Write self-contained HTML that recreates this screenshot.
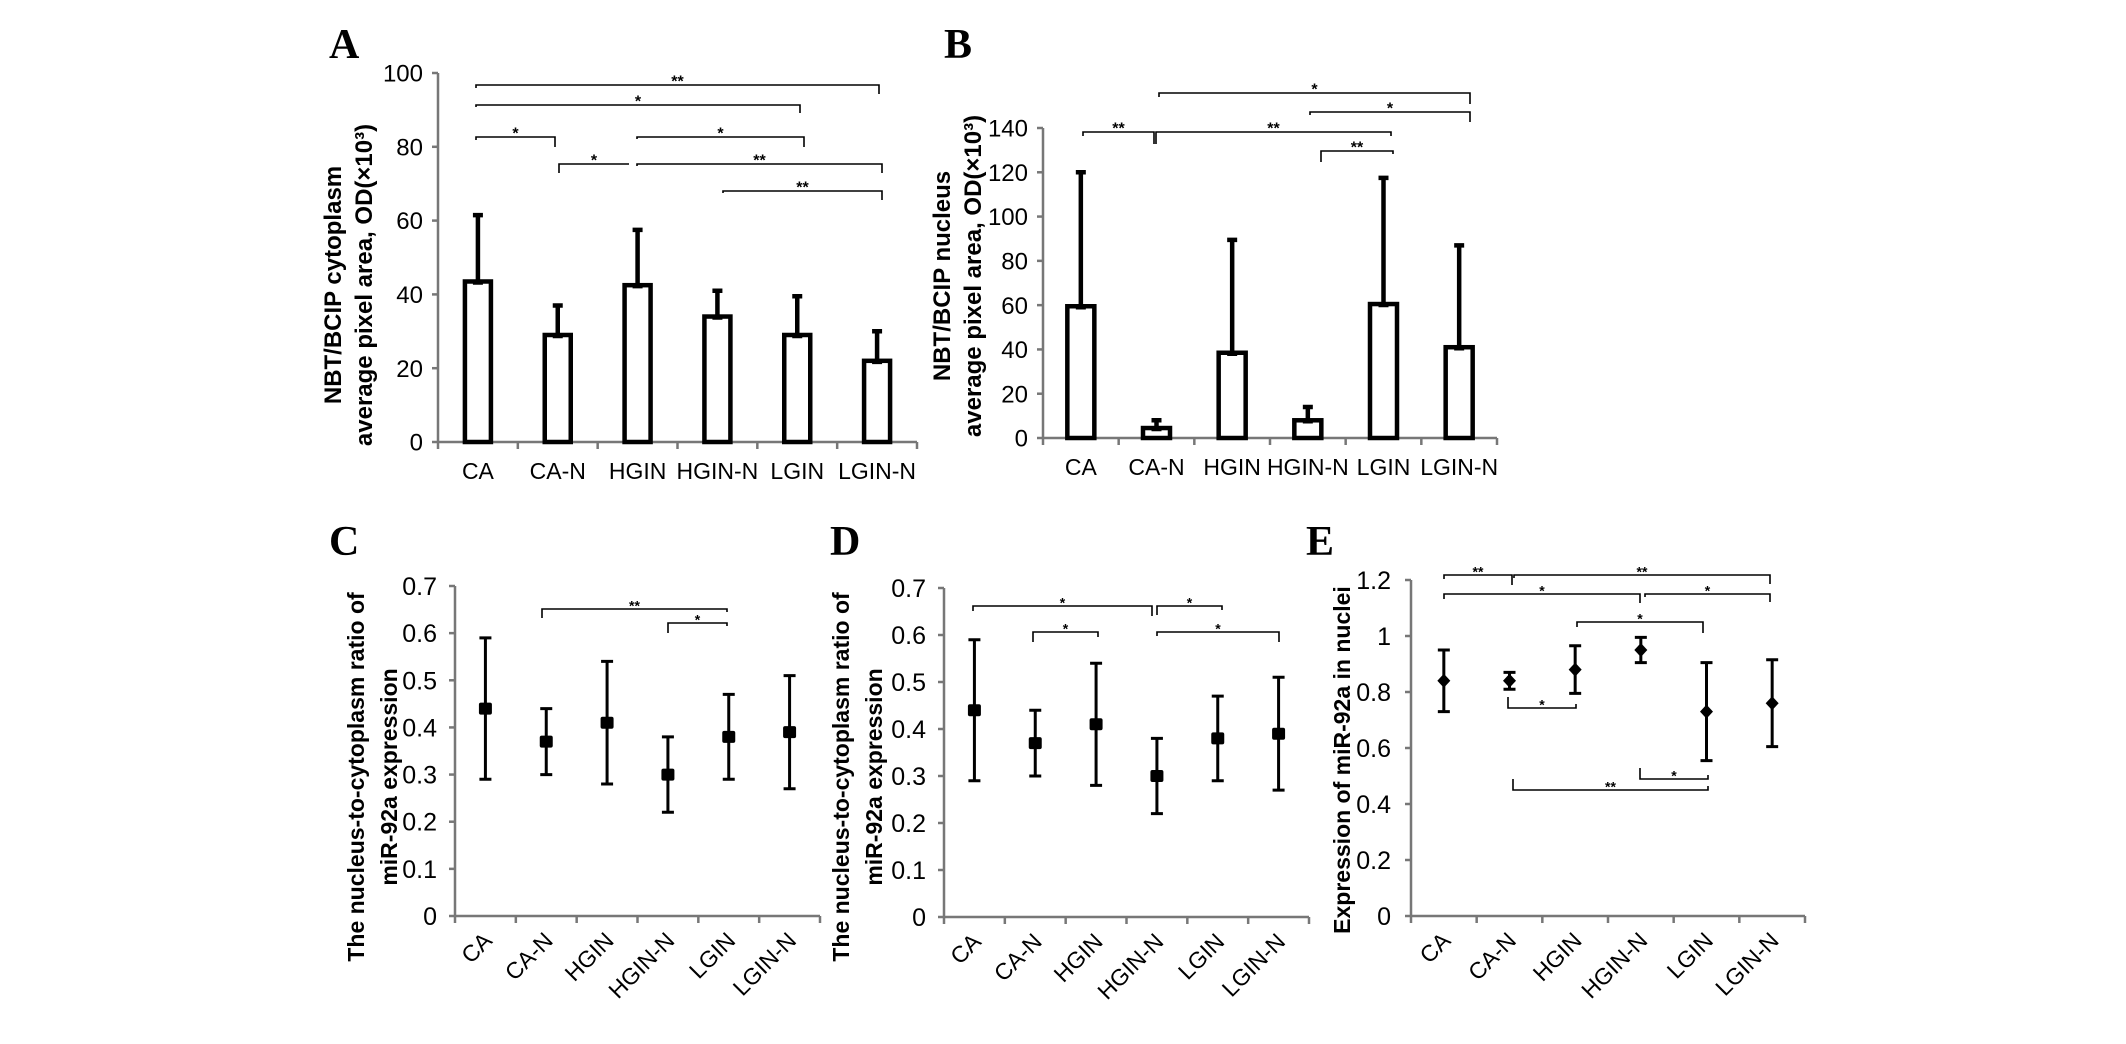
<!DOCTYPE html>
<html><head><meta charset="utf-8"><style>
html,body{margin:0;padding:0;background:#fff;}
svg{display:block;}
text{font-family:"Liberation Sans",sans-serif;fill:#000;}
.lt{font-family:"Liberation Serif",serif;font-weight:bold;font-size:42px;}
</style></head><body>
<svg id="fig" width="2126" height="1044" viewBox="0 0 2126 1044"></svg>
<script>
const categories = ["CA","CA-N","HGIN","HGIN-N","LGIN","LGIN-N"];
const aMeans = [43.5,29,42.5,34,29,22];
const aUpper = [61.5,37,57.5,41,39.5,30];
const aTicks = [0,20,40,60,80,100];
const bMeans = [59.5,4.5,38.5,8,60.5,41];
const bUpper = [120,8,89.5,14,117.5,87];
const bTicks = [0,20,40,60,80,100,120,140];
const cMeans = [0.44,0.37,0.41,0.30,0.38,0.39];
const cLow = [0.29,0.30,0.28,0.22,0.29,0.27];
const cHigh = [0.59,0.44,0.54,0.38,0.47,0.51];
const cdTicks = [0,0.1,0.2,0.3,0.4,0.5,0.6,0.7];
const eMeans = [0.84,0.84,0.88,0.95,0.73,0.76];
const eLow = [0.73,0.81,0.795,0.905,0.555,0.605];
const eHigh = [0.95,0.87,0.965,0.995,0.905,0.915];
const eTicks = [0,0.2,0.4,0.6,0.8,1,1.2];
const eTickLabels = ["0","0.2","0.4","0.6","0.8","1","1.2"];

const NS="http://www.w3.org/2000/svg";
const svg=document.getElementById('fig');
function mk(tag,attrs,parent,txt){const e=document.createElementNS(NS,tag);for(const k in attrs)e.setAttribute(k,attrs[k]);if(txt!==undefined)e.textContent=txt;(parent||svg).appendChild(e);return e;}

function panel(o){
  const g=mk('g',{});
  
  
  const n=categories.length, cw=(o.x1-o.x0)/n;
  const ys=v=>o.yb-(v-o.min)/(o.max-o.min)*(o.yb-o.yt);
  const xs=i=>o.x0+cw*(i+0.5);
  const lt=mk('text',{x:o.lx,y:o.ly,class:'lt'},g,o.letter);
  
  
  const ya=mk('line',{x1:o.x0,y1:o.yt,x2:o.x0,y2:o.yb,stroke:'#777','stroke-width':2.5},g);
  
  
  o.ticks.forEach((t,k)=>{
    mk('line',{x1:o.x0-6,y1:ys(t),x2:o.x0,y2:ys(t),stroke:'#777','stroke-width':2.5},g);
    const tl=mk('text',{x:o.x0-o.tgap,y:ys(t)+o.tfs*0.36,'text-anchor':'end','font-size':o.tfs},g,o.tlabels?o.tlabels[k]:String(t));
    
    
  });
  const xa=mk('line',{x1:o.x0,y1:o.yb,x2:o.x1,y2:o.yb,stroke:'#777','stroke-width':2.5},g);
  
  
  for(let i=0;i<=n;i++) mk('line',{x1:o.x0+cw*i,y1:o.yb,x2:o.x0+cw*i,y2:o.yb+7,stroke:'#777','stroke-width':2.5},g);
  categories.forEach((c,i)=>{
    let t;
    if(o.rot){ const px=xs(i)+8, py=o.yb+26;
      t=mk('text',{x:px,y:py,'text-anchor':'end','font-size':o.cfs,transform:`rotate(-45 ${px} ${py})`},g,c);
    } else t=mk('text',{x:xs(i),y:o.yb+37,'text-anchor':'middle','font-size':o.cfs},g,c);
    
    
  });
  const tt=mk('text',{transform:`translate(${o.tx},${o.ty}) rotate(-90)`,'text-anchor':'middle','font-size':o.ttfs,'font-weight':'bold'},g);
  
  
  o.title.forEach((line,k)=>{mk('tspan',{x:0,dy:k?o.ttlh:0},tt,line);});
  o.means.forEach((m,i)=>{
    const x=xs(i);
    if(o.type==='bar'){
      const bw=o.bw;
      const r=mk('rect',{x:x-bw/2,y:ys(m),width:bw,height:ys(o.min)-ys(m),fill:'#fff',stroke:'#000','stroke-width':4.5},g);
      
      
      const eb=mk('path',{d:`M${x} ${ys(m)}V${ys(o.hi[i])}M${x-5} ${ys(o.hi[i])}H${x+5}M${x-5} ${ys(m)+1}H${x+5}`,stroke:'#000','stroke-width':4.5,fill:'none'},g);
      
      
    } else {
      const eb=mk('path',{d:`M${x} ${ys(o.lo[i])}V${ys(o.hi[i])}M${x-6} ${ys(o.hi[i])}H${x+6}M${x-6} ${ys(o.lo[i])}H${x+6}`,stroke:'#000','stroke-width':3,fill:'none'},g);
      
      
      let p;
      if(o.type==='square') p=mk('rect',{x:x-6.5,y:ys(m)-6,width:13,height:12,rx:2,fill:'#000'},g);
      else p=mk('path',{d:`M${x} ${ys(m)-7}L${x+6.5} ${ys(m)}L${x} ${ys(m)+7}L${x-6.5} ${ys(m)}Z`,fill:'#000'},g);
      
      
    }
  });
  o.br.forEach(b=>{
    const [xa_,xb_,y,ly,ry,lab]=b;
    const p=mk('path',{d:`M${xa_} ${ly}V${y}H${xb_}V${ry}`,stroke:'#000','stroke-width':1.6,fill:'none'},g);
    
    
    const st=mk('text',{x:(xa_+xb_)/2,y:y+o.sfs*0.1,'text-anchor':'middle','font-size':o.sfs,'font-weight':'bold'},g,lab);
    
    
  });
}

panel({name:'panel-a',letter:'A',lx:329,ly:58,x0:438,x1:917,yt:73,yb:442,min:0,max:100,ticks:aTicks,tfs:24,tgap:15,cfs:23,rot:false,
  tx:341,ty:285,ttfs:24,ttlh:31,title:['NBT/BCIP cytoplasm','average pixel area, OD(\u00D710\u00B3)'],
  type:'bar',bw:26,means:aMeans,hi:aUpper,sfs:16,
  br:[[476,879,85,88,94,'**'],[476,800,105,107,113,'*'],[476,555,137,140,147,'*'],[559,629,164,173,164,'*'],[637,804,137,139,147,'*'],[637,882,164,166,173,'**'],[723,882,191,193,200,'**']]});
panel({name:'panel-b',letter:'B',lx:944,ly:58,x0:1043,x1:1497,yt:128,yb:438,min:0,max:140,ticks:bTicks,tfs:24,tgap:15,cfs:23,rot:false,
  tx:950,ty:276,ttfs:24,ttlh:31,title:['NBT/BCIP nucleus','average pixel area, OD(\u00D710\u00B3)'],
  type:'bar',bw:27,means:bMeans,hi:bUpper,sfs:16,
  br:[[1083,1154,132,136,144,'**'],[1156,1391,132,144,136,'**'],[1159,1470,93,97,104,'*'],[1310,1470,112,115,122,'*'],[1321,1393,151,162,154,'**']]});
panel({name:'panel-c',letter:'C',lx:329,ly:555,x0:455,x1:820,yt:586,yb:916,min:0,max:0.7,ticks:cdTicks,tfs:25,tgap:18,cfs:23,rot:true,
  tx:364,ty:777,ttfs:23,ttlh:33,title:['The nucleus-to-cytoplasm ratio of','miR-92a expression'],
  type:'square',means:cMeans,lo:cLow,hi:cHigh,sfs:14,
  br:[[542,727,609,618,612,'**'],[668,727,623,633,626,'*']]});
panel({name:'panel-d',letter:'D',lx:830,ly:555,x0:944,x1:1309,yt:588,yb:917,min:0,max:0.7,ticks:cdTicks,tfs:25,tgap:18,cfs:23,rot:true,
  tx:849,ty:777,ttfs:23,ttlh:33,title:['The nucleus-to-cytoplasm ratio of','miR-92a expression'],
  type:'square',means:cMeans,lo:cLow,hi:cHigh,sfs:14,
  br:[[973,1152,606,611,616,'*'],[1157,1222,606,615,610,'*'],[1033,1098,632,642,637,'*'],[1157,1279,632,636,642,'*']]});
panel({name:'panel-e',letter:'E',lx:1306,ly:555,x0:1411,x1:1805,yt:580,yb:916,min:0,max:1.2,ticks:eTicks,tlabels:eTickLabels,tfs:25,tgap:20,cfs:23,rot:true,
  tx:1350,ty:760,ttfs:23,ttlh:30,title:['Expression of miR-92a in nuclei'],
  type:'diamond',means:eMeans,lo:eLow,hi:eHigh,sfs:14,
  br:[[1444,1512,575,579,585,'**'],[1514,1770,575,578,584,'**'],[1444,1640,594,599,603,'*'],[1645,1770,594,597,602,'*'],[1577,1703,622,627,633,'*'],
      [1508,1576,708,697,704,'*'],[1640,1708,779,768,775,'*'],[1513,1708,790,779,786,'**']]});
</script>
</body></html>
